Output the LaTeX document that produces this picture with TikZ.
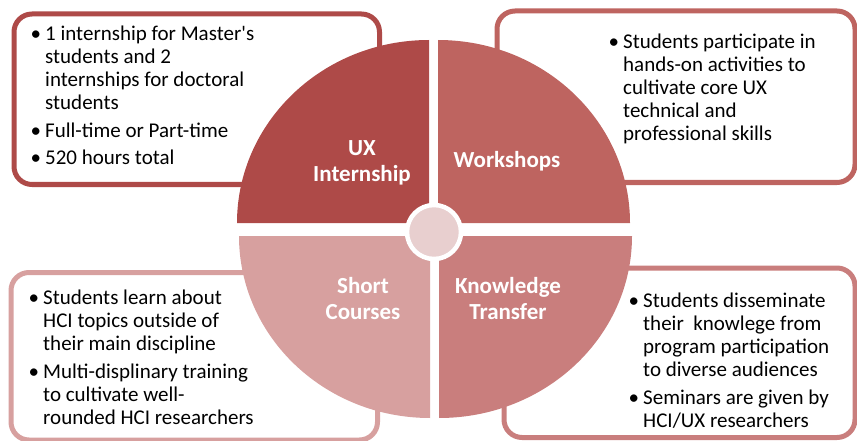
\documentclass[tikz,border=0pt]{standalone}
\usepackage{fontspec}
\setmainfont{Carlito}

\definecolor{intern}{HTML}{AE4A48}
\definecolor{work}{HTML}{BE6460}
\definecolor{short}{HTML}{D7A09F}
\definecolor{know}{HTML}{C97E7D}
\definecolor{hub}{HTML}{E8CFCF}
\newcommand{\bul}{\llap{\textbullet\hspace{4pt}}}

\begin{document}
\begin{tikzpicture}[x=1pt, y=1pt,
    box/.style={line width=5pt, rounded corners=18pt},
    txt/.style={anchor=north west, inner sep=0pt, align=left, font=\fontsize{21}{23}\selectfont},
    lbl/.style={text=white, inner sep=0pt, align=center, font=\bfseries\fontsize{23}{26}\selectfont}]
  \useasboundingbox (0,0) rectangle (857,-441);
  % boxes behind the circle
  \draw[box, draw=intern] (14,-14) rectangle (379.5,-184.5);
  \draw[box, draw=work]   (497,-11) rectangle (855,-182.5);
  \draw[box, draw=short]  (11,-272.5) rectangle (377.5,-440);
  \draw[box, draw=know]   (504,-268) rectangle (855,-437.5);
  % quarters
  \fill[intern] (429,-223) -- ++(-192,0) arc[start angle=180, end angle=90, x radius=192, y radius=183] -- cycle;
  \fill[work]   (438,-223) -- ++(192,0) arc[start angle=0, end angle=90, x radius=192, y radius=183] -- cycle;
  \fill[short]  (430,-236) -- ++(-191,0) arc[start angle=180, end angle=270, x radius=191, y radius=182] -- cycle;
  \fill[know]   (439,-236) -- ++(193,0) arc[start angle=0, end angle=-90, x radius=193, y radius=182] -- cycle;
  \node[circle, fill=hub, draw=white, line width=4.5pt, minimum size=54pt] (hub) at (434,-232) {};
  % labels
  \node[lbl] (internship) at (362,-163) {UX\\Internship};
  \node[lbl] (workshops) at (507,-161) {Workshops};
  \node[lbl] (courses) at (363,-299) {Short\\Courses};
  \node[lbl] (transfer) at (508,-299) {Knowledge\\Transfer};
  % bullet texts
  \node[txt] (interntxt) at (45,-26) {\bul 1 internship for Master\textquotesingle s\\students and 2\\internships for doctoral\\students\\[5pt]\bul Full-time or Part-time\\[4pt]\bul 520 hours total};
  \node[txt] (worktxt) at (623,-34) {\bul Students participate in\\hands-on activities to\\cultivate core UX\\technical and\\professional skills};
  \node[txt] (shorttxt) at (43,-290) {\bul Students learn about\\HCI topics outside of\\their main discipline\\[5pt]\bul Multi-displinary training\\to cultivate well-\\rounded HCI researchers};
  \node[txt] (knowtxt) at (643,-293) {\bul Students disseminate\\their\ \ knowlege from\\program participation\\to diverse audiences\\[5pt]\bul Seminars are given by\\HCI/UX researchers};
\end{tikzpicture}
\end{document}
